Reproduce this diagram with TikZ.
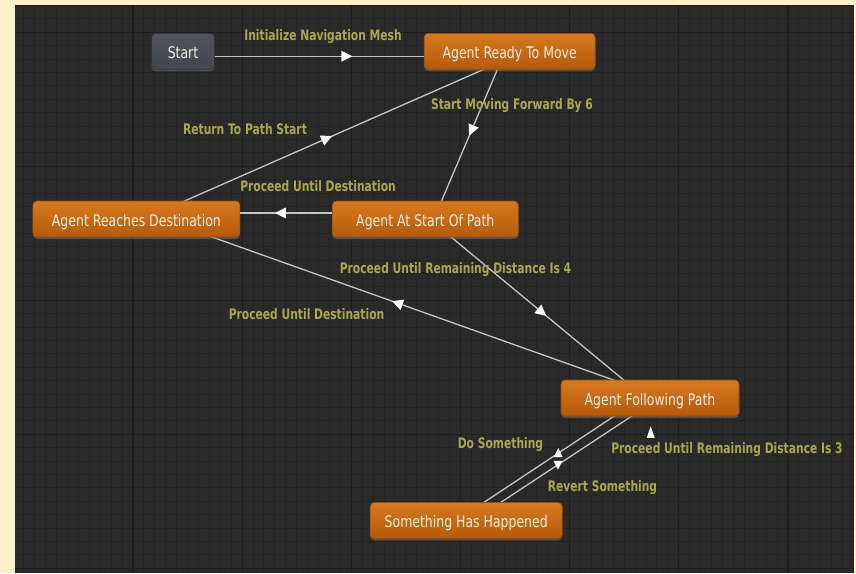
\documentclass[tikz,border=0pt]{standalone}
\usepackage{fontspec}
\usetikzlibrary{calc,decorations.markings,shadows}
\newfontfamily\nodefont[FakeStretch=0.78]{DejaVu Sans}
\newfontfamily\labfont[FakeStretch=0.74]{DejaVu Sans Bold}
\definecolor{cream}{HTML}{FDF0CA}
\definecolor{bgdark}{HTML}{2A2A2A}
\definecolor{gridminor}{HTML}{232323}
\definecolor{gridmajor}{HTML}{1E1E1E}
\definecolor{orangetop}{HTML}{D77920}
\definecolor{orangebot}{HTML}{B55A0B}
\definecolor{orangeedge}{HTML}{9A4D0A}
\definecolor{graytop}{HTML}{50535A}
\definecolor{graybot}{HTML}{43464C}
\definecolor{grayedge}{HTML}{303236}
\definecolor{nodetext}{HTML}{F4EEE2}
\definecolor{labcol}{HTML}{A9A84C}
\definecolor{linecol}{HTML}{C4C4C4}
\pgfdeclarelayer{gridlayer}
\pgfdeclarelayer{edgelayer}
\pgfsetlayers{gridlayer,edgelayer,main}
\tikzset{
  state/.style={rounded corners=4pt, minimum height=36pt, inner sep=0pt,
    text height=15.5pt, text depth=1pt,
    font={\nodefont\fontsize{16pt}{19pt}\selectfont}, text=nodetext,
    draw=orangeedge, line width=0.6pt, top color=orangetop, bottom color=orangebot,
    drop shadow={shadow xshift=0pt, shadow yshift=-2pt, opacity=0.45}},
  entrystate/.style={state, draw=grayedge, top color=graytop, bottom color=graybot},
  lab/.style={font={\labfont\fontsize{14.5pt}{17pt}\selectfont}, text=labcol,
    anchor=base, inner sep=0pt},
  trans/.style={draw=linecol, line width=1.3pt, postaction={decorate},
    decoration={markings, mark=at position #1 with
      {\fill[white] (6pt,0pt) -- (-5pt,5.5pt) -- (-5pt,-5.5pt) -- cycle;}}},
  trans/.default=0.5,
  transup/.style={draw=linecol, line width=1.3pt, postaction={decorate},
    decoration={markings, mark=at position #1 with
      {\pgftransformresetnontranslations
       \fill[white] (0pt,5pt) -- (4.5pt,-4pt) -- (-4.5pt,-4pt) -- cycle;}}},
  transdown/.style={draw=linecol, line width=1.3pt, postaction={decorate},
    decoration={markings, mark=at position #1 with
      {\pgftransformresetnontranslations
       \fill[white] (0pt,-5pt) -- (4.5pt,4pt) -- (-4.5pt,4pt) -- cycle;}}},
  minorline/.style={draw=gridminor, line width=1pt},
  majorline/.style={draw=gridmajor, line width=1.2pt}
}
\begin{document}
\begin{tikzpicture}[x=1pt,y=-1pt]
\useasboundingbox (0,0) rectangle (856,573);
\begin{pgfonlayer}{gridlayer}
  \fill[cream] (0,0) rectangle (856,573);
  \fill[bgdark] (15,5) rectangle (853,573);
  \foreach \k in {0,...,76} {
    \pgfmathsetmacro\xx{23.8+10.917*\k}
    \draw[minorline] (\xx,5) -- (\xx,573);
  }
  \foreach \k in {-2,...,40} {
    \pgfmathsetmacro\yy{32.3+13.4*\k}
    \draw[minorline] (15,\yy) -- (853,\yy);
  }
  \foreach \k in {0,...,6} {
    \pgfmathsetmacro\xx{133+109.17*\k}
    \draw[majorline] (\xx,5) -- (\xx,573);
  }
  \foreach \k in {0,...,4} {
    \pgfmathsetmacro\yy{32.3+134*\k}
    \draw[majorline] (15,\yy) -- (853,\yy);
  }
\end{pgfonlayer}

\node[entrystate, minimum width=63pt] (start) at (183,51.3) {Start};
\node[state, minimum width=171pt] (ready) at (509.7,51.3) {Agent Ready To Move};
\node[state, minimum width=207pt] (dest) at (136.4,219) {Agent Reaches Destination};
\node[state, minimum width=186pt] (atstart) at (425.3,219) {Agent At Start Of Path};
\node[state, minimum width=178pt] (follow) at (650,398) {Agent Following Path};
\node[state, minimum width=192pt] (happened) at (466.2,520.5) {Something Has Happened};

\begin{pgfonlayer}{edgelayer}
  \draw[trans] ($(start.center)+(0,5)$) -- ($(ready.center)+(0,5)$);
  \draw[trans=0.47] ($(ready.center)+(-4.6,0)$) -- ($(atstart.center)+(8.6,0)$);
  \draw[trans=0.48] ($(dest.center)+(7.2,0)$) -- ($(ready.center)+(15.1,0)$);
  \draw[trans] ($(atstart.center)+(0,-6)$) -- ($(dest.center)+(0,-6)$);
  \draw[trans=0.52] ($(atstart.center)+(4,0)$) -- ($(follow.center)+(-4.6,0)$);
  \draw[trans=0.53] ($(follow.center)+(14,0)$) -- ($(dest.center)+(25,0)$);
  \draw[transup=0.55] ($(happened.center)+(-9.6,0)$) -- ($(follow.center)+(-8.5,0)$);
  \draw[transdown=0.545] ($(follow.center)+(9.2,0)$) -- ($(happened.center)+(7.1,0)$);
\end{pgfonlayer}
\fill[white] ($(follow.south)+(0.7,10)$) -- ++(4,11.5) -- ++(-8,0) -- cycle;

\node[lab] (l1) at (323,40.5) {Initialize Navigation Mesh};
\node[lab] (l2) at (512,109.5) {Start Moving Forward By 6};
\node[lab] (l3) at (245,134) {Return To Path Start};
\node[lab] (l4) at (318,191) {Proceed Until Destination};
\node[lab] (l5) at (455.5,273.3) {Proceed Until Remaining Distance Is 4};
\node[lab] (l6) at (306.5,319) {Proceed Until Destination};
\node[lab] (l7) at (500.5,448.5) {Do Something};
\node[lab] (l8) at (727,453.5) {Proceed Until Remaining Distance Is 3};
\node[lab] (l9) at (602.5,491) {Revert Something};
\end{tikzpicture}
\end{document}
